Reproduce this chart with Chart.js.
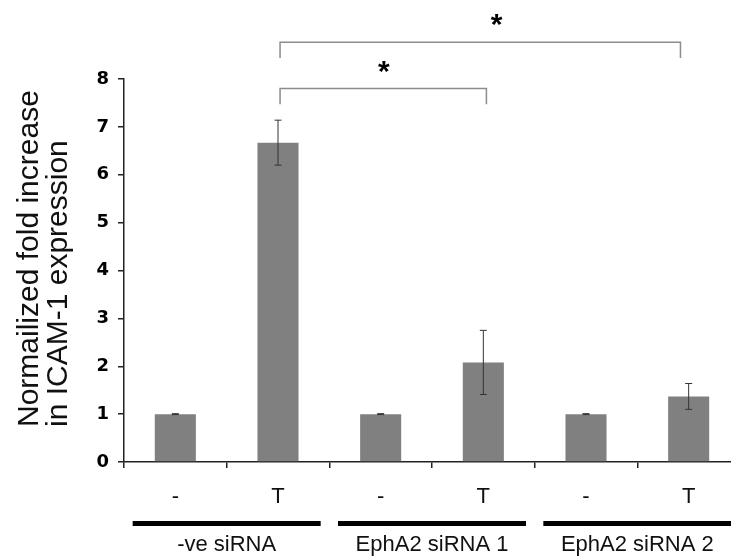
<!DOCTYPE html>
<html>
<head>
<meta charset="utf-8">
<script src="https://cdn.jsdelivr.net/npm/chart.js@4"></script>
<style>
  html, body { margin: 0; padding: 0; background: #fff; overflow: hidden; }
  #wrap { width: 741px; height: 558px; }
</style>
</head>
<body>
<div id="wrap"><canvas id="fold" width="741" height="558"></canvas></div>
<script>
// values
var categories = ['-', 'T', '-', 'T', '-', 'T'];
var groups = ['-ve siRNA', 'EphA2 siRNA 1', 'EphA2 siRNA 2'];
var means = [1, 6.67, 1, 2.08, 1, 1.37];
var errors = [0.01, 0.47, 0.01, 0.67, 0.01, 0.27];
var yTicks = [0, 1, 2, 3, 4, 5, 6, 7, 8];
var yTitle = ['Normailized fold increase', 'in ICAM-1 expression'];
// significance brackets: category positions and height in y units
var brackets = [
    { from: 1.02, to: 3.03, y: 7.8, drop: 0.33, star: 2.03 },
    { from: 1.02, to: 4.92, y: 8.77, drop: 0.33, star: 3.13 }
];

var errorBars = {
    id: 'errorBars',
    afterDatasetsDraw: function(chart) {
        var ctx = chart.ctx;
        var y = chart.scales.y;
        var meta = chart.getDatasetMeta(0);
        ctx.save();
        ctx.strokeStyle = '#333';
        ctx.lineWidth = 1;
        meta.data.forEach(function(bar, i) {
            var top = y.getPixelForValue(means[i] + errors[i]);
            var bot = y.getPixelForValue(means[i] - errors[i]);
            ctx.beginPath();
            ctx.moveTo(bar.x, top); ctx.lineTo(bar.x, bot);
            ctx.moveTo(bar.x - 3.5, top); ctx.lineTo(bar.x + 3.5, top);
            ctx.moveTo(bar.x - 3.5, bot); ctx.lineTo(bar.x + 3.5, bot);
            ctx.stroke();
        });
        ctx.restore();
    }
};

var extras = {
    id: 'extras',
    afterDraw: function(chart) {
        var ctx = chart.ctx;
        var x = chart.scales.x, y = chart.scales.y;
        ctx.save();
        // brackets and stars
        ctx.strokeStyle = '#8c8c8c';
        ctx.lineWidth = 1.5;
        brackets.forEach(function(b) {
            var x1 = x.getPixelForValue(b.from), x2 = x.getPixelForValue(b.to);
            var yy = y.getPixelForValue(b.y), ye = y.getPixelForValue(b.y - b.drop);
            ctx.beginPath();
            ctx.moveTo(x1, ye); ctx.lineTo(x1, yy); ctx.lineTo(x2, yy); ctx.lineTo(x2, ye);
            ctx.stroke();
            ctx.fillStyle = '#000';
            ctx.font = 'bold 30px "Liberation Sans", Arial';
            ctx.textAlign = 'center';
            ctx.textBaseline = 'alphabetic';
            ctx.fillText('*', x.getPixelForValue(b.star), yy - 8);
        });
        // group bars and names
        groups.forEach(function(g, i) {
            var cx = (x.getPixelForValue(2 * i) + x.getPixelForValue(2 * i + 1)) / 2;
            ctx.fillStyle = '#000';
            ctx.fillRect(cx - 94, 521, 188, 5);
            ctx.font = '22px "Liberation Sans", Arial';
            ctx.textAlign = 'center';
            ctx.textBaseline = 'middle';
            ctx.fillStyle = '#111';
            ctx.fillText(g, cx, 545);
        });
        // y axis title, two lines rotated
        ctx.fillStyle = '#111';
        ctx.font = '30px "Liberation Sans", Arial';
        ctx.textAlign = 'left';
        ctx.textBaseline = 'alphabetic';
        [38, 67].forEach(function(bx, i) {
            ctx.save();
            ctx.translate(bx, 427);
            ctx.rotate(-Math.PI / 2);
            ctx.fillText(yTitle[i], 0, 0);
            ctx.restore();
        });
        ctx.restore();
    }
};

new Chart(document.getElementById('fold'), {
    type: 'bar',
    data: {
        labels: categories,
        datasets: [{
            data: means,
            backgroundColor: '#808080',
            borderWidth: 0,
            barPercentage: 0.4,
            categoryPercentage: 1
        }]
    },
    options: {
        responsive: false,
        animation: false,
        layout: { padding: { top: 79, right: 1, left: 0, bottom: 0 } },
        plugins: { legend: { display: false }, tooltip: { enabled: false } },
        scales: {
            x: {
                afterFit: function(s) { s.height = 96; },
                border: { color: '#222', width: 1.5 },
                grid: { offset: true, drawOnChartArea: false, tickLength: 6, color: '#222', lineWidth: 1.5 },
                ticks: { color: '#111', padding: 16, font: { family: '"Liberation Sans", Arial', size: 22 } }
            },
            y: {
                min: 0, max: 8,
                afterFit: function(s) { s.width = 124; },
                afterBuildTicks: function(s) { s.ticks = yTicks.map(function(v) { return { value: v }; }); },
                border: { color: '#222', width: 1.5 },
                grid: { drawOnChartArea: false, tickLength: 6, color: '#222', lineWidth: 1.5 },
                ticks: { color: '#000', padding: 9, font: { family: '"DejaVu Sans"', size: 18, weight: 'bold' } }
            }
        }
    },
    plugins: [errorBars, extras]
});
</script>
</body>
</html>
